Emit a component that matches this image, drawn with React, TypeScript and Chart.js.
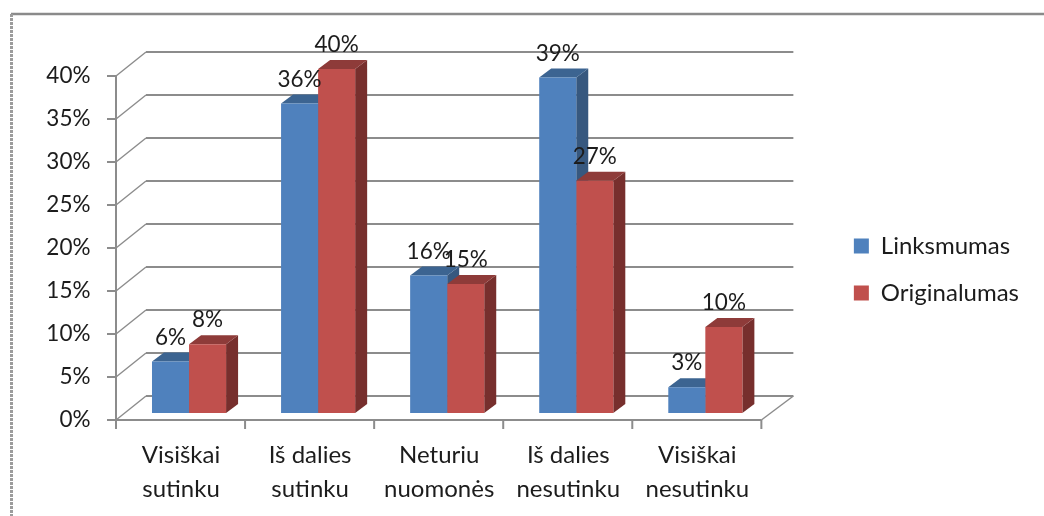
import React, { useEffect, useRef } from "react";
import { Chart, registerables } from "chart.js";

Chart.register(...registerables);

const categories = [
  ["Visiškai", "sutinku"],
  ["Iš dalies", "sutinku"],
  ["Neturiu", "nuomonės"],
  ["Iš dalies", "nesutinku"],
  ["Visiškai", "nesutinku"],
];
const linksmumas = [6, 36, 16, 39, 3];
const originalumas = [8, 40, 15, 27, 10];
const seriesNames = ["Linksmumas", "Originalumas"];

const FONT = "Lato, 'Open Sans', sans-serif";
const TEXT = "#1c1c1c";
const GRID = "#8c8c8c";
const BLUE = { front: "#4F81BD", top: "#3C6491", side: "#37587F" };
const RED = { front: "#C0504D", top: "#8E3B39", side: "#772F2D" };
const PALETTE = [BLUE, RED];

// Pseudo-3D geometry: how far the box and the bars recede behind the value plane.
const FLOOR_FRONT_DY = 7;
const FLOOR_FRONT_DX = -8.5;
const WALL_DX = 30;
const WALL_DY = -24;
const BAR_DX = 12;
const BAR_DY = -9;

const line = (ctx: CanvasRenderingContext2D, x1: number, y1: number, x2: number, y2: number) => {
  ctx.beginPath();
  ctx.moveTo(x1, y1);
  ctx.lineTo(x2, y2);
  ctx.stroke();
};

const poly = (ctx: CanvasRenderingContext2D, color: string, pts: number[][]) => {
  ctx.fillStyle = color;
  ctx.beginPath();
  pts.forEach(([x, y], i) => (i ? ctx.lineTo(x, y) : ctx.moveTo(x, y)));
  ctx.closePath();
  ctx.fill();
};

const boxPlugin = {
  id: "box3d",
  // The category labels run below the reserved axis box, so let them paint to the canvas edge.
  afterLayout(chart: any) {
    chart.scales.x.bottom = chart.height;
  },
  beforeDatasetsDraw(chart: any) {
    const { ctx, scales } = chart;
    const { x, y } = scales;
    const frontL = x.left + FLOOR_FRONT_DX;
    const frontR = x.right + FLOOR_FRONT_DX;
    const pixel = (v: number) => y.getPixelForValue(v) + FLOOR_FRONT_DY;
    ctx.save();

    // Outer chart border: solid along the top, dotted down the left.
    ctx.strokeStyle = "#8a8a8a";
    ctx.lineWidth = 2.5;
    line(ctx, 11, 14, chart.width, 14);
    ctx.lineWidth = 3;
    ctx.strokeStyle = "#9c9c9c";
    ctx.setLineDash([3, 1]);
    line(ctx, 11.5, 14, 11.5, chart.height);
    ctx.setLineDash([]);

    // Back wall and side wall gridlines.
    ctx.strokeStyle = GRID;
    y.ticks.forEach((t: any) => {
      const py = pixel(t.value);
      ctx.lineWidth = 2;
      line(ctx, frontL + WALL_DX, py + WALL_DY, frontR + WALL_DX + 2, py + WALL_DY);
      ctx.lineWidth = 1.5;
      line(ctx, frontL, py, frontL + WALL_DX, py + WALL_DY);
      ctx.lineWidth = 2;
      line(ctx, frontL - 9, py, frontL, py);
    });

    // Front axis lines, floor edge and category ticks.
    ctx.lineWidth = 2;
    line(ctx, frontL, pixel(y.max), frontL, pixel(0) + 9);
    line(ctx, frontL, pixel(0), frontR, pixel(0));
    ctx.lineWidth = 1.5;
    line(ctx, frontR, pixel(0), frontR + WALL_DX + 2, pixel(0) + WALL_DY);
    ctx.lineWidth = 2;
    const step = (x.right - x.left) / categories.length;
    for (let i = 1; i <= categories.length; i++) {
      line(ctx, frontL + i * step, pixel(0), frontL + i * step, pixel(0) + 9);
    }

    // Top and side faces of the bars, rear series first.
    chart.data.datasets.forEach((_: any, di: number) => {
      const colors = PALETTE[di];
      chart.getDatasetMeta(di).data.forEach((bar: any) => {
        const l = bar.x - bar.width / 2;
        const r = bar.x + bar.width / 2;
        poly(ctx, colors.side, [
          [r, bar.y],
          [r + BAR_DX, bar.y + BAR_DY],
          [r + BAR_DX, bar.base + BAR_DY],
          [r, bar.base],
        ]);
        poly(ctx, colors.top, [
          [l, bar.y],
          [l + BAR_DX, bar.y + BAR_DY],
          [r + BAR_DX, bar.y + BAR_DY],
          [r, bar.y],
        ]);
      });
    });
    ctx.restore();
  },
  afterDatasetsDraw(chart: any) {
    const { ctx } = chart;
    ctx.save();
    ctx.font = `22.5px ${FONT}`;
    ctx.fillStyle = TEXT;
    ctx.textAlign = "center";
    ctx.textBaseline = "middle";
    chart.data.datasets.forEach((ds: any, di: number) => {
      chart.getDatasetMeta(di).data.forEach((bar: any, i: number) => {
        ctx.fillText(`${ds.data[i]}%`, bar.x, bar.y - 24);
      });
    });
    ctx.restore();
  },
};

export default function App() {
  const ref = useRef<HTMLCanvasElement>(null);

  useEffect(() => {
    const chart = new Chart(ref.current!, {
      type: "bar",
      plugins: [boxPlugin],
      data: {
        labels: categories,
        datasets: [
          { label: seriesNames[0], data: linksmumas, backgroundColor: BLUE.front },
          { label: seriesNames[1], data: originalumas, backgroundColor: RED.front },
        ],
      },
      options: {
        animation: false,
        responsive: false,
        events: [],
        layout: { padding: { top: 69, bottom: 46, left: 0, right: 15 } },
        datasets: { bar: { categoryPercentage: 0.574, barPercentage: 1 } },
        scales: {
          x: {
            grid: { display: false },
            border: { display: false },
            afterFit: (s: any) => {
              s.height = 57;
            },
            ticks: {
              color: TEXT,
              font: { family: FONT, size: 24, lineHeight: 1.42 },
              labelOffset: -8,
              padding: 17,
              maxRotation: 0,
              autoSkip: false,
            },
          },
          y: {
            min: 0,
            max: 40,
            grid: { display: false },
            border: { display: false },
            afterFit: (s: any) => {
              s.width = 124.5;
            },
            ticks: {
              stepSize: 5,
              color: TEXT,
              font: { family: FONT, size: 22.5 },
              labelOffset: FLOOR_FRONT_DY,
              padding: 26,
              callback: (v: any) => `${v}%`,
            },
          },
          // Reserves the blank band between the plot box and the legend.
          gutter: {
            type: "linear",
            position: "right",
            display: true,
            grid: { display: false },
            border: { display: false },
            ticks: { display: false },
            afterFit: (s: any) => {
              s.width = 61;
            },
          },
        },
        plugins: {
          title: { display: false },
          tooltip: { enabled: false },
          legend: {
            position: "right",
            maxWidth: 320,
            labels: {
              boxWidth: 15,
              boxHeight: 15,
              padding: 23,
              color: TEXT,
              font: { family: FONT, size: 24 },
            },
          },
        },
      },
    } as any);
    return () => chart.destroy();
  }, []);

  return (
    <div style={{ position: "absolute", left: 0, top: 0, width: 1044, height: 516, background: "#fff" }}>
      <canvas ref={ref} width={1044} height={516} style={{ display: "block" }} />
    </div>
  );
}
